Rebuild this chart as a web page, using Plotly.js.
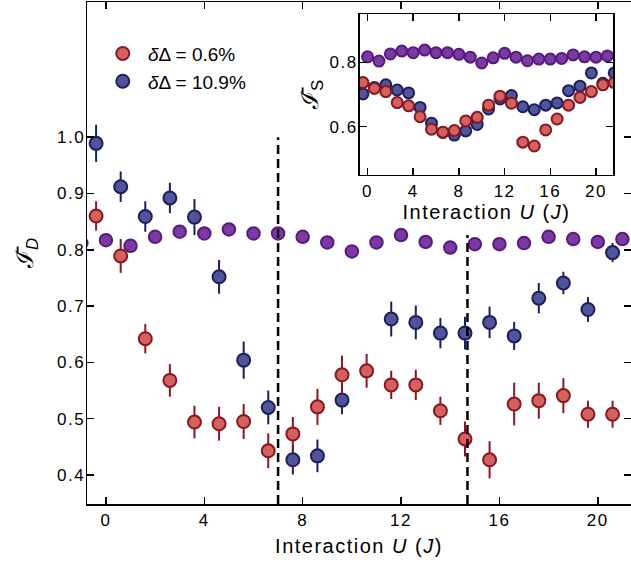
<!DOCTYPE html>
<html>
<head>
<meta charset="utf-8">
<script src="https://cdn.plot.ly/plotly-3.0.1.min.js"></script>
<style>
html,body{margin:0;padding:0;background:#fff;}
#plot .xtick text, #plot .ytick text, #plot .x2tick text, #plot .y2tick text,
#plot .g-xtitle text, #plot .g-x2title text { letter-spacing: 1.5px; }
</style>
</head>
<body>
<div id="plot" style="width:631px;height:564px;"></div>
<script>
// ---- main panel data ----
const mainPurpleX = [-1,0,1,2,3,4,5,6,7,8,9,10,11,12,13,14,15,16,17,18,19,20,21];
const mainPurpleY = [0.812,0.817,0.807,0.823,0.832,0.829,0.836,0.829,0.829,0.823,0.813,0.797,0.813,0.826,0.814,0.804,0.810,0.810,0.812,0.823,0.819,0.814,0.819];

const mainRedX = [-0.4,0.6,1.6,2.6,3.6,4.6,5.6,6.6,7.6,8.6,9.6,10.6,11.6,12.6,13.6,14.6,15.6,16.6,17.6,18.6,19.6,20.6];
const mainRedY = [0.860,0.789,0.642,0.568,0.494,0.491,0.495,0.443,0.473,0.521,0.578,0.585,0.560,0.560,0.514,0.464,0.427,0.526,0.532,0.541,0.508,0.508];
const mainRedErr = [0.026,0.030,0.026,0.029,0.029,0.030,0.031,0.031,0.030,0.032,0.034,0.030,0.025,0.027,0.025,0.031,0.033,0.038,0.032,0.031,0.024,0.024];

const mainBlueX = [-0.4,0.6,1.6,2.6,3.6,4.6,5.6,6.6,7.6,8.6,9.6,11.6,12.6,13.6,14.6,15.6,16.6,17.6,18.6,19.6,20.6];
const mainBlueY = [0.989,0.912,0.859,0.892,0.858,0.752,0.604,0.520,0.427,0.434,0.533,0.677,0.671,0.652,0.652,0.671,0.647,0.714,0.741,0.694,0.795];
const mainBlueErr = [0.033,0.027,0.027,0.027,0.032,0.030,0.033,0.030,0.026,0.029,0.025,0.031,0.030,0.027,0.029,0.028,0.025,0.027,0.020,0.022,0.017];

// dashed reference lines
const dashX = [7, 14.7];
const dashTop = [1.0, 0.826];

// ---- inset data ----
const insetPurpleX = [0,1,2,3,4,5,6,7,8,9,10,11,12,13,14,15,16,17,18,19,20,21];
const insetPurpleY = [0.817,0.804,0.826,0.835,0.830,0.838,0.830,0.830,0.825,0.816,0.798,0.814,0.828,0.816,0.805,0.810,0.810,0.812,0.823,0.817,0.816,0.820];
const insetX = [-0.4,0.6,1.6,2.6,3.6,4.6,5.6,6.6,7.6,8.6,9.6,10.6,11.6,12.6,13.6,14.6,15.6,16.6,17.6,18.6,19.6,20.6,21.6];
const insetRedY = [0.737,0.719,0.709,0.675,0.665,0.631,0.592,0.583,0.588,0.618,0.629,0.667,0.695,0.673,0.552,0.540,0.590,0.624,0.667,0.691,0.709,0.730,0.737];
const insetBlueY = [0.702,0.722,0.730,0.714,0.705,0.660,0.611,0.582,0.574,0.587,0.607,0.655,0.686,0.697,0.662,0.653,0.667,0.674,0.712,0.726,0.767,0.735,0.767];

const xTicks = [0,4,8,12,16,20];
const yTicksMain = [0.4,0.5,0.6,0.7,0.8,0.9,1.0];
const yTicksInset = [0.6,0.8];
const legendLabels = ['\u00a0<i>δ</i>Δ = 0.6%', '\u00a0<i>δ</i>Δ = 10.9%'];

const RED_FILL = '#d2625f', RED_EDGE = '#8a1620';
const BLUE_FILL = '#52549a', BLUE_EDGE = '#1c1f5e';
const PUR_FILL = '#7b3aa0', PUR_EDGE = '#561a80';

const FONT = 'Liberation Sans, Arial, Helvetica, sans-serif';
const xMainRange = [-0.77, 21.35];
const yMainRange = [0.3485, 1.24];

const traces = [
  {x: mainPurpleX, y: mainPurpleY, type:'scatter', mode:'markers', showlegend:false,
   marker:{size:12.5, color:PUR_FILL, line:{color:PUR_EDGE, width:2}}},
  {x: mainBlueX, y: mainBlueY, type:'scatter', mode:'markers', name: legendLabels[1], legendrank:2,
   error_y:{type:'data', array: mainBlueErr, color: BLUE_EDGE, thickness:2, width:0},
   marker:{size:13, color:BLUE_FILL, line:{color:BLUE_EDGE, width:2}}},
  {x: mainRedX, y: mainRedY, type:'scatter', mode:'markers', name: legendLabels[0], legendrank:1,
   error_y:{type:'data', array: mainRedErr, color: RED_EDGE, thickness:2, width:0},
   marker:{size:13, color:RED_FILL, line:{color:RED_EDGE, width:2}}},
  {x: insetPurpleX, y: insetPurpleY, xaxis:'x2', yaxis:'y2', type:'scatter', mode:'markers', showlegend:false,
   marker:{size:11, color:PUR_FILL, line:{color:PUR_EDGE, width:2}}},
  {x: insetX, y: insetBlueY, xaxis:'x2', yaxis:'y2', type:'scatter', mode:'markers', showlegend:false,
   marker:{size:11, color:BLUE_FILL, line:{color:BLUE_EDGE, width:2}}},
  {x: insetX, y: insetRedY, xaxis:'x2', yaxis:'y2', type:'scatter', mode:'markers', showlegend:false,
   marker:{size:11, color:RED_FILL, line:{color:RED_EDGE, width:2}}}
];

const shapes = dashX.map((xv, i) => ({
  type:'line', xref:'x', yref:'y', x0:xv, x1:xv, y0:yMainRange[0], y1:dashTop[i],
  line:{color:'#000', width:2.5, dash:'9px,5px'}, layer:'above'
}));

const axisCommon = {
  showline:true, linecolor:'#000', linewidth:1.5, mirror:'ticks',
  ticks:'inside', ticklen:7, tickwidth:1.5, tickcolor:'#000',
  showgrid:false, zeroline:false, tickfont:{family:FONT, size:17, color:'#000'}
};

const layout = {
  width:631, height:564,
  margin:{l:87, r:0, t:2, b:60},
  paper_bgcolor:'#fff', plot_bgcolor:'#fff',
  font:{family:FONT, color:'#000'},
  showlegend:true,
  legend:{x:0.029, y:0.935, xanchor:'left', yanchor:'top', bgcolor:'rgba(0,0,0,0)',
          font:{family:FONT, size:19, color:'#000'}, tracegroupgap:0, itemwidth:30},
  xaxis: Object.assign({}, axisCommon, {
    range:xMainRange, tickvals:xTicks, ticktext:xTicks.map(String),
    title:{text:'Interaction <i>U</i> (<i>J</i>)', font:{family:FONT, size:20, color:'#000'}, standoff:10}
  }),
  yaxis: Object.assign({}, axisCommon, {
    range:yMainRange, tickvals:yTicksMain, ticktext:yTicksMain.map(v=>v.toFixed(1)), ticklabelstandoff:-3,
    title:{text:'ℐ\u0304<sub><i>D</i></sub>', font:{family:FONT, size:24, color:'#000'}, standoff:21}
  }),
  xaxis2: Object.assign({}, axisCommon, {
    domain:[0.501, 0.9675], anchor:'y2', range:[-0.70, 21.52], tickvals:xTicks, ticktext:xTicks.map(String),
    title:{text:'Interaction <i>U</i> (<i>J</i>)', font:{family:FONT, size:20, color:'#000'}, standoff:2}
  }),
  yaxis2: Object.assign({}, axisCommon, {
    domain:[0.6554, 0.976], anchor:'x2', range:[0.45, 0.95], tickvals:yTicksInset, ticktext:yTicksInset.map(v=>v.toFixed(1)), ticklabelstandoff:-3,
    title:{text:'ℐ\u0304<sub>S</sub>', font:{family:FONT, size:24, color:'#000'}, standoff:8}
  }),
  shapes: shapes
};

Plotly.newPlot('plot', traces, layout, {displayModeBar:false, staticPlot:true});
</script>
</body>
</html>
